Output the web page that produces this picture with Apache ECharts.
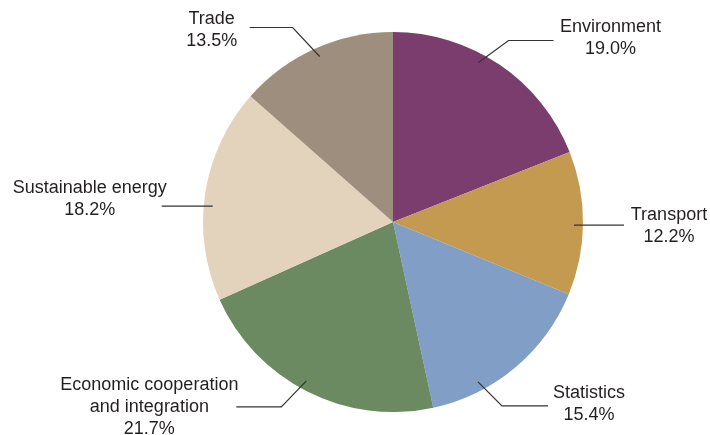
<!DOCTYPE html>
<html><head><meta charset="utf-8">
<script src="https://cdn.jsdelivr.net/npm/echarts@6/dist/echarts.min.js"></script>
<style>html,body{margin:0;padding:0;background:#fff}#c{width:710px;height:435px}</style>
</head><body><div id="c"></div>
<script>
const categories = ["Environment", "Transport", "Statistics", "Economic cooperation\nand integration", "Sustainable energy", "Trade"];
const values = [19.0, 12.2, 15.4, 21.7, 18.2, 13.5];
const colors = ["#7A3D6E", "#C49A50", "#819FC6", "#6B8A62", "#E3D3BD", "#9E8E7D"];

// label guide geometry (annotation layout): [anchor angle deg from top, elbow dx, elbow dy, horizontal length, text dx, text dy]
const guides = [
  [28.2, 30, -22, 45, 57, -2],
  [91, 25, 0, 25, 45, 1],
  [152, 24, 24, 46, 41, -2],
  [208.6, -25, 26, -45, -87, 0],
  [275, -25, 0, -26, -72, -7],
  [336.1, -27, -29, -43, -38, 3]
];
const CX = 393, CY = 222, R = 190, RA = 181;
const FONT = 'Liberation Sans, Arial, sans-serif';

const chart = echarts.init(document.getElementById('c'));
const data = categories.map((n, i) => ({ name: n, value: values[i] }));
chart.setOption({
  animation: false,
  color: colors,
  series: [{
    type: 'pie',
    z: 2,
    center: [CX, CY],
    radius: R,
    startAngle: 90,
    clockwise: true,
    silent: true,
    data: data,
    itemStyle: { borderWidth: 0 },
    label: { show: false },
    labelLine: { show: false }
  }, {
    type: 'pie',
    z: 5,
    center: [CX, CY],
    radius: R,
    startAngle: 90,
    clockwise: true,
    silent: true,
    data: data,
    itemStyle: { color: 'rgba(0,0,0,0)', borderWidth: 0 },
    label: {
      show: true,
      position: 'outside',
      overflow: 'none',
      fontFamily: FONT,
      fontSize: 18,
      color: '#231F20',
      lineHeight: 22,
      formatter: p => p.name.split('\n').map(s => '{c|' + s + '}').join('\n') + '\n{c|' + p.value.toFixed(1) + '%}',
      rich: { c: { align: 'center', fontSize: 18, lineHeight: 22, color: '#231F20', fontFamily: FONT } }
    },
    labelLine: { show: true, length: 20, length2: 30, lineStyle: { color: '#333', width: 1.2 } },
    labelLayout: function (params) {
      const g = guides[params.dataIndex];
      const a = g[0] * Math.PI / 180;
      const p0 = [CX + RA * Math.sin(a), CY - RA * Math.cos(a)];
      const p1 = [p0[0] + g[1], p0[1] + g[2]];
      const p2 = [p1[0] + g[3], p1[1]];
      return {
        x: p2[0] + g[4],
        y: p2[1] + g[5],
        align: 'center',
        verticalAlign: 'middle',
        labelLinePoints: [p0, p1, p2]
      };
    }
  }]
});
</script></body></html>
